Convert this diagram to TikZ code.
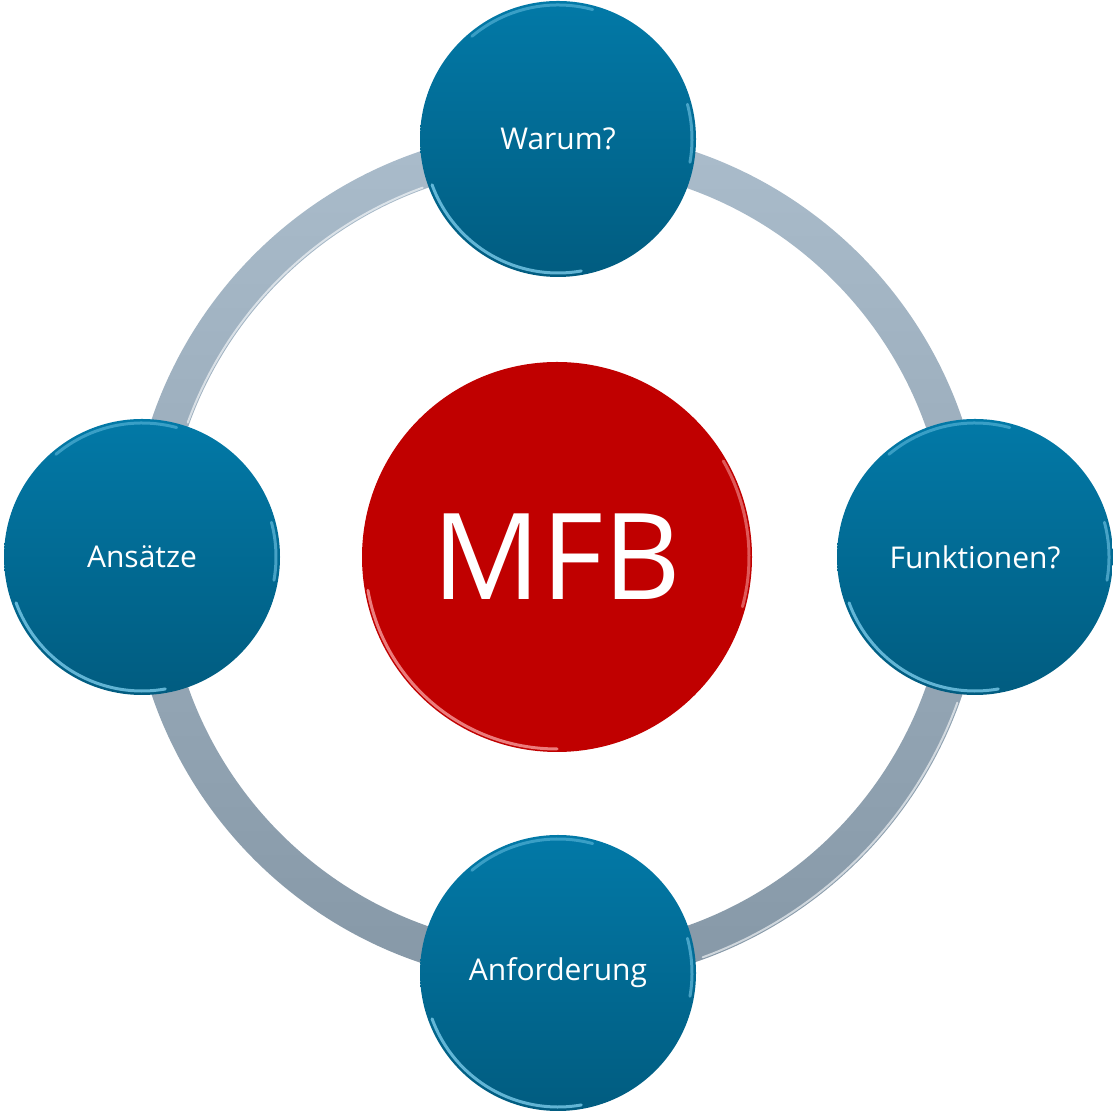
\documentclass[tikz,border=0pt]{standalone}
\usepackage{fontspec}
\setmainfont{Open Sans}
\definecolor{mfbrot}{RGB}{192,0,0}
\definecolor{blauoben}{RGB}{2,121,167}
\definecolor{blauunten}{RGB}{1,92,128}
\definecolor{ringhell}{RGB}{170,188,203}
\definecolor{ringdunkel}{RGB}{134,152,167}

\begin{document}
\begin{tikzpicture}[x=0.5pt, y=0.5pt, line cap=round, line join=round,
  thema/.style={circle, minimum size=138pt, inner sep=0pt, outer sep=0pt,
    top color=blauoben, bottom color=blauunten, text=white,
    font=\fontsize{15}{17}\selectfont},
  kern/.style={circle, minimum size=195pt, inner sep=0pt, outer sep=0pt,
    fill=mfbrot, text=white, font=\fontsize{60}{64}\selectfont},
  glanzblau/.style={line width=1.5pt, cyan!45!white, opacity=0.7},
  glanzrot/.style={line width=1.5pt, red!30!white, opacity=0.7},
  glanzring/.style={line width=1pt, white, opacity=0.6}]

  % Rahmen
  \useasboundingbox (0,0) rectangle (1113,1112);
  \coordinate (M) at (557,555);

  % Ring
  \shade[even odd rule, top color=ringhell, bottom color=ringdunkel]
    (M) circle[radius=428] (M) circle[radius=391];
  \draw[glanzring] ([shift={(-70:426)}]M) arc[start angle=-70, end angle=-20, radius=426];
  \draw[glanzring] ([shift={(110:393)}]M) arc[start angle=110, end angle=160, radius=393];

  % Kreise
  \node[kern] (mfb) at (M) {MFB};
  \node[thema] (warum) at (558,973) {Warum?};
  \node[thema] (funktionen) at (975,555) {Funktionen?};
  \node[thema] (anforderung) at (558,139) {Anforderung};
  \node[thema] (ansaetze) at (142,555) {Ansätze};

  % Glanzkanten
  \foreach \n in {warum,funktionen,anforderung,ansaetze} {
    \draw[glanzblau] ([shift={(200:67pt)}]\n.center) arc[start angle=200, end angle=280, radius=67pt];
    \draw[glanzblau, opacity=0.4] ([shift={(75:67pt)}]\n.center) arc[start angle=75, end angle=130, radius=67pt];
    \draw[glanzblau, opacity=0.5] ([shift={(-10:67pt)}]\n.center) arc[start angle=-10, end angle=15, radius=67pt];
  }
  \draw[glanzrot] ([shift={(190:96pt)}]mfb.center) arc[start angle=190, end angle=270, radius=96pt];
  \draw[glanzrot, opacity=0.5] ([shift={(-15:96pt)}]mfb.center) arc[start angle=-15, end angle=30, radius=96pt];
\end{tikzpicture}
\end{document}
